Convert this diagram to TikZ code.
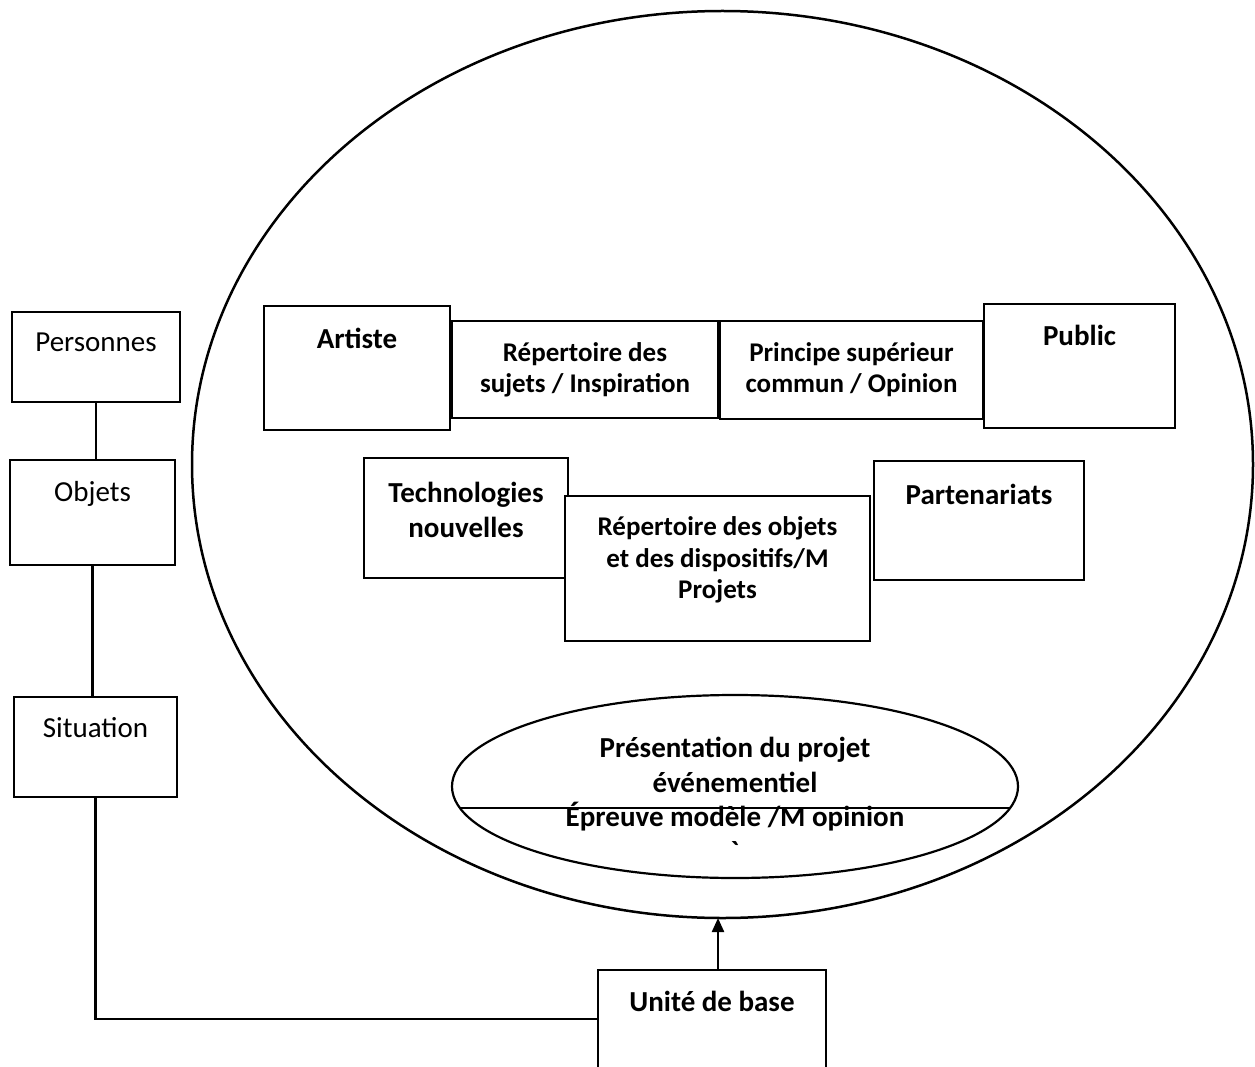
\documentclass[tikz,border=0pt]{standalone}
\usepackage{fontspec}
\setmainfont{Carlito}
\usetikzlibrary{shapes.geometric,arrows.meta,positioning,calc}
\newcommand{\grand}{\fontsize{29}{35}\selectfont}
\newcommand{\petit}{\fontsize{27}{31.5}\selectfont}

\begin{document}
\begin{tikzpicture}[x=1pt, y=-1pt,
    cadre/.style={draw, line width=2.8pt, fill=white, anchor=north west, inner sep=0pt, outer sep=0pt},
    etiq/.style={anchor=north, inner sep=0pt, align=center, font=\grand},
    etiqgras/.style={etiq, font=\grand\bfseries},
    etiqpetit/.style={etiq, font=\petit\bfseries},
    trait/.style={line width=2.2pt},
    fleche/.style={line width=2.2pt, -{Triangle[length=14pt, width=12pt]}}]
    \useasboundingbox (0,0) rectangle (1255,1067);
    % big ellipse
    \node[draw, ellipse, line width=2.5pt, minimum width=1061pt, minimum height=907pt,
          inner sep=0pt, outer sep=0pt] (univers) at (722.5,464.5) {};
    % left column
    \node[cadre, minimum width=168pt, minimum height=90pt,
          label={[etiq, yshift=-21pt]north:Personnes}] (pers) at (12,312) {};
    \node[cadre, minimum width=165pt, minimum height=105pt,
          label={[etiq, yshift=-21pt]north:Objets}] (obj) at (10,460) {};
    \node[cadre, minimum width=163pt, minimum height=100pt,
          label={[etiq, yshift=-20pt]north:Situation}] (situ) at (14,697) {};
    % first row
    \node[cadre, minimum width=186pt, minimum height=124pt,
          label={[etiqgras, yshift=-22pt]north:Artiste}] (artiste) at (264,306) {};
    \node[cadre, minimum width=266pt, minimum height=97pt,
          label={[etiqpetit, yshift=-21pt]north:{Répertoire des\\sujets / Inspiration}}] (rsujets) at (452,321) {};
    \node[cadre, minimum width=263pt, minimum height=98pt,
          label={[etiqpetit, yshift=-21pt]north:{Principe supérieur\\commun / Opinion}}] (principe) at (720,321) {};
    \node[cadre, minimum width=191pt, minimum height=124pt,
          label={[etiqgras, yshift=-20.5pt]north:Public}] (public) at (984,304) {};
    % second row
    \node[cadre, minimum width=204pt, minimum height=120pt,
          label={[etiqgras, yshift=-23.5pt]north:{Technologies\\nouvelles}}] (tech) at (364,458) {};
    \node[cadre, minimum width=210pt, minimum height=119pt,
          label={[etiqgras, yshift=-22.5pt]north:Partenariats}] (parten) at (874,461) {};
    \node[cadre, minimum width=305pt, minimum height=145pt,
          label={[etiqpetit, yshift=-20.5pt]north:{Répertoire des objets\\et des dispositifs/M\\Projets}}] (robjets) at (565,496) {};
    % small ellipse
    \node[draw, ellipse, line width=2.2pt, minimum width=566pt, minimum height=183pt,
          inner sep=0pt, outer sep=0pt,
          label={[etiqgras, font=\fontsize{29}{34.5}\selectfont\bfseries, yshift=-42pt]north:{Présentation du projet\\événementiel\\Épreuve modèle /M opinion\\\textasciigrave}}] (pres) at (735,786.5) {};
    \draw[trait] ($(pres.center)+(-275,21.5)$) -- ($(pres.center)+(275,21.5)$);
    % base unit
    \node[cadre, minimum width=228pt, minimum height=120pt,
          label={[etiqgras, yshift=-20.5pt]north:Unité de base}] (unite) at (598,970) {};
    % connectors
    \draw[trait] (pers.south) -- (pers.south |- obj.north);
    \draw[trait] (obj.south) -- (obj.south |- situ.north);
    \draw[trait] (situ.south) |- ([yshift=11pt]unite.west);
    \draw[fleche] ([xshift=6pt]unite.north) -- ([xshift=6pt]unite.north |- univers.south);
\end{tikzpicture}
\end{document}
